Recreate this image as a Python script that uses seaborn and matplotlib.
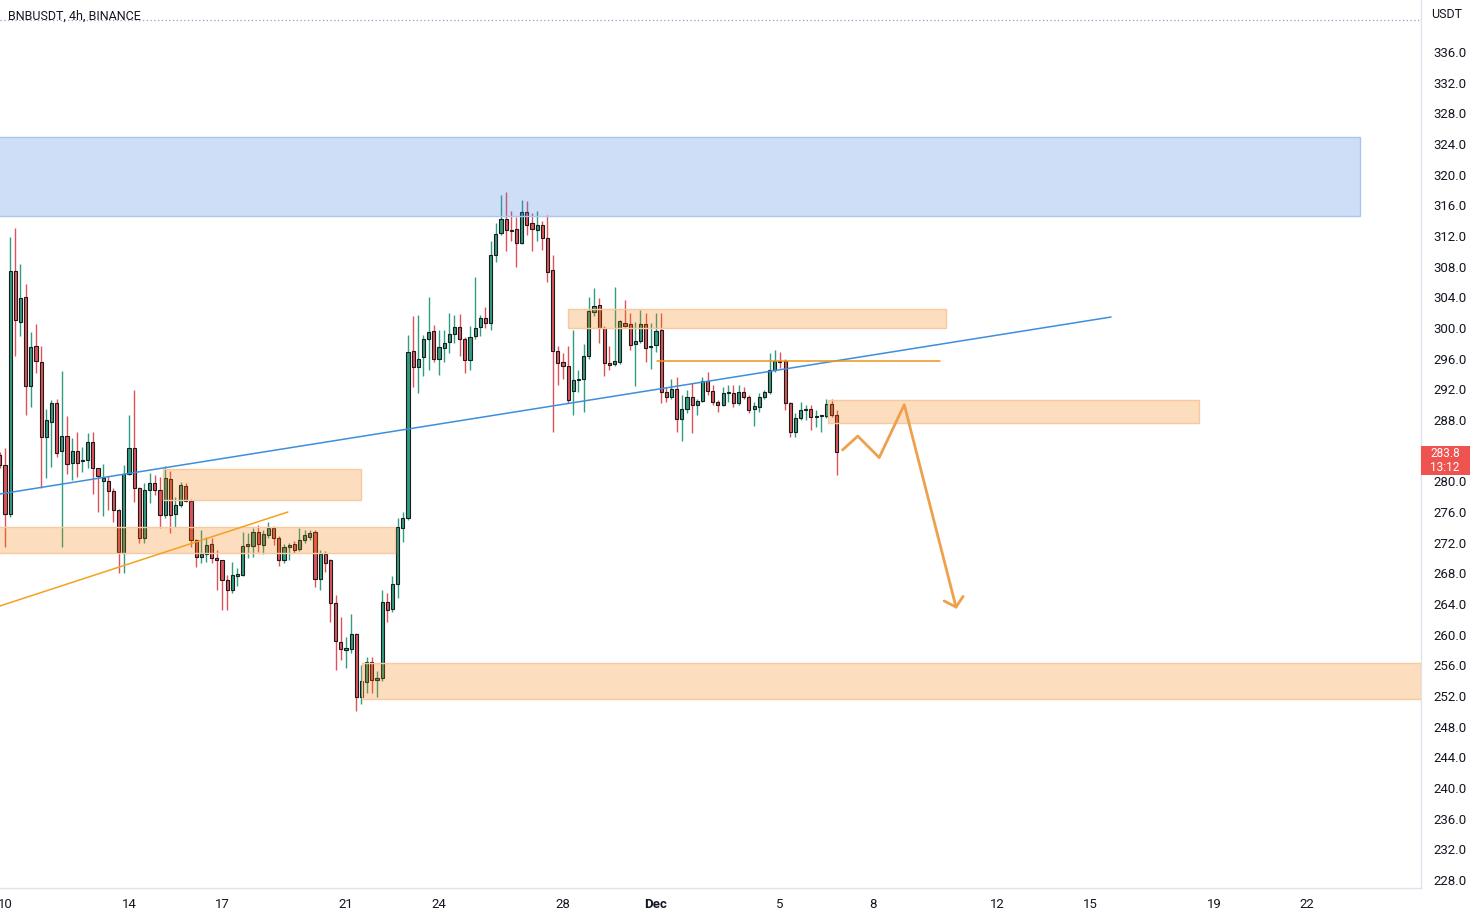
import matplotlib
matplotlib.use("Agg")
import matplotlib.pyplot as plt
import matplotlib.dates as mdates
from matplotlib.patches import Rectangle
import numpy as np
import pandas as pd
import seaborn as sns

# 4h candles, BNB/USDT
start_time = "2022-11-09 20:00"
opens = [283.4, 282.1, 275.7, 307.4, 300.8, 304.0, 292.4, 297.6, 295.5, 285.8, 287.8, 290.2, 283.9, 285.9, 282.4,
         284.0, 282.6, 282.8, 285.1, 281.7, 280.1, 280.1, 278.7, 276.3, 270.7, 281.0, 284.3, 279.1, 272.6, 278.9,
         279.8, 278.9, 275.6, 280.3, 275.8, 276.9, 279.4, 277.5, 272.3, 270.1, 270.5, 271.8, 270.0, 269.7, 267.1,
         265.8, 267.6, 267.8, 271.6, 271.6, 273.4, 271.7, 273.0, 273.9, 272.6, 269.7, 271.4, 271.8, 271.2, 272.4,
         272.8, 273.4, 267.2, 270.5, 269.7, 264.1, 259.1, 258.0, 258.1, 260.1, 251.9, 253.8, 256.4, 254.1, 254.3,
         264.3, 263.3, 266.6, 273.9, 275.2, 297.0, 294.9, 296.2, 298.6, 299.6, 296.0, 297.4, 298.2, 299.2, 300.1,
         298.6, 295.8, 298.9, 300.1, 301.3, 300.6, 309.5, 312.4, 314.2, 312.8, 312.9, 311.1, 315.1, 313.7, 312.8,
         313.4, 311.7, 307.6, 297.0, 295.5, 295.0, 291.8, 293.2, 293.3, 296.3, 302.1, 303.0, 300.0, 295.4, 295.3,
         295.5, 300.7, 300.5, 297.9, 298.3, 300.5, 297.5, 297.8, 299.7, 291.6, 291.0, 292.1, 288.1, 289.5, 291.0,
         290.0, 290.5, 293.1, 291.8, 290.4, 290.0, 291.5, 291.5, 290.2, 291.7, 291.0, 289.4, 289.7, 291.0, 291.6,
         294.5, 295.7, 295.7, 290.2, 286.5, 288.2, 289.3, 289.4, 288.4, 288.5, 288.5, 290.1, 288.6]
highs = [283.8, 284.3, 311.9, 313.0, 308.4, 305.8, 299.5, 300.5, 297.6, 289.4, 290.6, 290.8, 294.4, 288.5, 285.6,
         286.5, 284.5, 286.3, 286.5, 281.8, 282.3, 280.7, 279.1, 276.4, 282.1, 288.7, 291.9, 279.3, 279.8, 281.1,
         280.8, 280.6, 282.0, 281.3, 278.0, 279.9, 279.8, 277.7, 272.5, 273.7, 272.8, 272.6, 271.0, 269.8, 267.8,
         269.5, 268.7, 273.4, 273.2, 273.9, 274.3, 273.6, 274.7, 274.2, 272.9, 271.8, 272.0, 272.2, 273.9, 273.6,
         273.6, 273.6, 271.0, 270.9, 269.9, 265.2, 262.3, 259.7, 262.7, 260.2, 256.0, 257.1, 257.1, 255.2, 265.8,
         265.4, 267.6, 275.2, 276.0, 299.1, 301.5, 301.7, 299.1, 304.1, 300.4, 299.7, 299.7, 302.0, 301.7, 301.8,
         298.8, 300.3, 306.6, 301.7, 302.8, 311.3, 313.7, 317.4, 317.8, 315.2, 314.5, 316.7, 316.5, 315.0, 315.2,
         313.9, 314.7, 309.5, 297.7, 296.7, 297.7, 299.7, 294.5, 297.9, 304.1, 305.2, 303.9, 300.3, 297.6, 305.4,
         301.1, 303.7, 301.9, 300.8, 302.3, 301.9, 300.6, 301.9, 301.9, 292.3, 293.4, 293.6, 291.3, 291.9, 292.8,
         290.8, 293.6, 294.3, 292.6, 290.6, 292.3, 292.6, 292.6, 292.6, 292.3, 291.2, 290.4, 291.5, 291.9, 296.7,
         297.1, 296.9, 295.9, 290.4, 288.9, 290.4, 290.0, 290.0, 289.3, 288.7, 290.8, 290.8, 289.3]
lows = [281.8, 271.4, 275.4, 296.3, 298.9, 288.7, 289.7, 294.1, 279.1, 280.4, 281.9, 283.2, 271.5, 281.0, 280.2,
        280.6, 281.2, 281.7, 278.4, 276.0, 275.5, 276.3, 274.7, 268.0, 268.0, 280.8, 277.3, 271.9, 271.9, 277.2,
        278.2, 273.9, 275.2, 273.2, 274.1, 276.6, 277.3, 271.5, 268.8, 269.4, 269.5, 269.3, 265.8, 263.2, 263.2,
        265.4, 266.4, 267.6, 270.0, 270.1, 270.8, 270.5, 272.6, 271.7, 268.9, 269.4, 269.7, 270.6, 270.9, 272.0,
        272.4, 266.2, 265.8, 268.2, 261.7, 255.4, 256.7, 255.6, 257.6, 250.0, 250.9, 252.4, 252.4, 251.9, 254.0,
        261.7, 263.0, 264.8, 272.1, 275.0, 292.3, 291.5, 293.7, 294.5, 295.6, 293.9, 295.6, 296.7, 298.0, 296.3,
        294.1, 294.5, 298.5, 298.9, 300.0, 299.7, 308.6, 312.1, 310.1, 311.3, 307.9, 310.9, 312.1, 310.1, 311.3,
        310.2, 306.0, 286.5, 292.6, 293.4, 290.2, 288.7, 291.7, 289.0, 296.0, 301.5, 298.1, 293.7, 294.5, 295.0,
        295.3, 300.1, 297.1, 292.4, 298.0, 295.6, 294.7, 296.9, 290.2, 290.4, 290.8, 286.5, 285.2, 288.9, 286.3,
        288.7, 290.3, 291.3, 290.0, 289.0, 289.8, 290.4, 289.7, 290.0, 290.8, 288.9, 287.2, 289.1, 290.8, 291.4,
        294.3, 294.8, 289.3, 285.8, 285.8, 288.0, 288.0, 286.7, 287.1, 286.5, 288.3, 288.4, 280.8]
closes = [282.1, 275.7, 307.4, 301.0, 303.9, 292.4, 297.5, 295.7, 285.8, 288.0, 290.2, 283.7, 285.9, 282.3, 283.9,
          282.4, 282.7, 285.1, 281.7, 280.7, 280.5, 278.8, 276.3, 270.8, 280.9, 284.3, 279.1, 272.6, 278.9, 279.8,
          278.9, 275.6, 280.4, 275.6, 276.9, 279.5, 277.5, 272.3, 270.1, 270.5, 271.7, 270.0, 269.7, 267.1, 265.8,
          267.8, 267.9, 271.6, 271.8, 273.4, 271.8, 273.1, 273.9, 272.6, 269.7, 271.4, 271.7, 271.0, 272.4, 273.0,
          273.3, 267.2, 270.5, 269.4, 264.1, 259.2, 258.1, 258.2, 260.1, 251.9, 253.9, 256.5, 254.1, 254.4, 264.3,
          263.2, 266.6, 274.1, 275.2, 296.9, 294.9, 296.0, 298.6, 299.5, 296.0, 297.5, 298.1, 299.2, 300.1, 298.6,
          295.8, 298.8, 300.0, 301.3, 300.6, 309.5, 312.3, 314.2, 312.8, 312.6, 311.1, 315.1, 313.4, 312.9, 313.4,
          311.7, 307.3, 297.0, 295.4, 295.0, 290.6, 293.2, 293.4, 296.3, 302.2, 302.9, 300.0, 295.4, 295.2, 295.7,
          300.9, 300.3, 297.8, 298.3, 300.5, 297.4, 297.7, 299.6, 291.7, 291.0, 292.1, 288.1, 289.5, 291.0, 289.9,
          290.5, 293.1, 291.8, 290.3, 290.0, 291.5, 291.6, 290.2, 291.6, 291.0, 289.3, 289.8, 291.0, 291.6, 294.5,
          295.7, 295.5, 290.2, 286.5, 288.2, 289.3, 289.4, 288.4, 288.5, 288.5, 290.1, 288.6, 283.8]
assert len(opens) == len(highs) == len(lows) == len(closes)

# drawings on the chart
blue_zone = ("2022-11-08 00:00", "2022-12-23 17:00", 314.6, 324.9)
orange_zones = [
    ("2022-11-28 04:00", "2022-12-10 08:30", 300.0, 302.5),
    ("2022-12-06 13:00", "2022-12-18 12:30", 287.6, 290.6),
    ("2022-11-15 02:30", "2022-11-21 11:30", 277.6, 281.6),
    ("2022-11-08 00:00", "2022-11-22 14:00", 270.65, 274.05),
    ("2022-11-21 12:30", "2022-12-28 00:00", 251.6, 256.3),
]
blue_trend_t = ["2022-11-09 20:00", "2022-12-15 16:20"]
blue_trend_p = [278.35, 301.43]
orange_trend_t = ["2022-11-09 20:00", "2022-11-19 03:00"]
orange_trend_p = [263.74, 276.0]
level_t = ["2022-12-01 00:45", "2022-12-10 04:00"]
level_p = [295.7, 295.7]
path_t = ["2022-12-07 00:30", "2022-12-07 12:15", "2022-12-08 04:50", "2022-12-09 00:15", "2022-12-10 16:20"]
path_p = [284.1, 285.9, 283.1, 290.0, 263.6]
head_t = ["2022-12-10 07:10", "2022-12-10 16:20", "2022-12-10 21:50"]
head_p = [264.4, 263.6, 265.0]
top_line_p = 340.2

# 284.0 sits under the last-price tag, so it is not listed
y_ticks = [v for v in range(228, 340, 4) if v != 284]
x_ticks = ["2022-11-10", "2022-11-14", "2022-11-17", "2022-11-21", "2022-11-24", "2022-11-28", "2022-12-01",
           "2022-12-05", "2022-12-08", "2022-12-12", "2022-12-15", "2022-12-19", "2022-12-22"]
x_labels = ["10", "14", "17", "21", "24", "28", "Dec", "5", "8", "12", "15", "19", "22"]

sns.set_style("white")
plt.rcParams["font.family"] = ["Roboto", "DejaVu Sans"]

times = pd.date_range(start_time, periods=len(opens), freq="4h")
df = pd.DataFrame({"time": times, "open": opens, "high": highs, "low": lows, "close": closes})
df["x"] = mdates.date2num(df["time"])
df["up"] = df["close"] >= df["open"]

green = "#2f9e80"
red = "#e0525a"

fig = plt.figure(figsize=(14.81, 9.16), dpi=100)
ax = fig.add_axes([0, 28 / 916, 1421 / 1481, 888 / 916])

# wicks
for up, col in [(True, green), (False, red)]:
    sub = df[df["up"] == up]
    ax.vlines(sub["x"], sub["low"], sub["high"], color=col, linewidth=1, zorder=2)
# bodies
body_h = (df["close"] - df["open"]).abs().clip(lower=0.12)
body_b = df[["open", "close"]].min(axis=1)
ax.bar(df["x"], body_h, bottom=body_b, width=0.1,
       color=np.where(df["up"], green, red), edgecolor="#1c1c1c", linewidth=0.8, zorder=3)


def tnum(s):
    return mdates.date2num(pd.Timestamp(s))


# zones
t0, t1, p0, p1 = blue_zone
ax.add_patch(Rectangle((tnum(t0), p0), tnum(t1) - tnum(t0), p1 - p0,
                       facecolor="#3d7de0", alpha=0.25, edgecolor="none", zorder=4))
ax.add_patch(Rectangle((tnum(t0), p0), tnum(t1) - tnum(t0), p1 - p0,
                       facecolor="none", edgecolor="#aac6ef", linewidth=1, zorder=4))
for t0, t1, p0, p1 in orange_zones:
    ax.add_patch(Rectangle((tnum(t0), p0), tnum(t1) - tnum(t0), p1 - p0,
                           facecolor="#f57c00", alpha=0.25, edgecolor="none", zorder=4))
    ax.add_patch(Rectangle((tnum(t0), p0), tnum(t1) - tnum(t0), p1 - p0,
                           facecolor="none", edgecolor="#f7c9a0", linewidth=1, zorder=4))

# lines
lines = pd.DataFrame({
    "t": pd.to_datetime(blue_trend_t + orange_trend_t + level_t),
    "p": blue_trend_p + orange_trend_p + level_p,
    "name": ["blue"] * 2 + ["orange"] * 2 + ["level"] * 2,
})
sns.lineplot(data=lines, x="t", y="p", hue="name", units="name", estimator=None,
             palette={"blue": "#3d8fdc", "orange": "#f5a020", "level": "#f0921c"},
             linewidth=1.1, legend=False, ax=ax, zorder=5)

path = pd.DataFrame({"t": pd.to_datetime(path_t), "p": path_p})
sns.lineplot(data=path, x="t", y="p", color="#eea04c", linewidth=2.0, sort=False, ax=ax, zorder=6)
head = pd.DataFrame({"t": pd.to_datetime(head_t), "p": head_p})
sns.lineplot(data=head, x="t", y="p", color="#eea04c", linewidth=2.0, sort=False, ax=ax, zorder=6)

ax.axhline(top_line_p, color="#b58ac8", linestyle=(0, (1, 2)), linewidth=0.9, zorder=1)

# axes
ax.set_xlim(tnum("2022-11-09 20:08"), tnum("2022-12-25 16:20"))
ax.set_ylim(226.96, 342.78)
ax.yaxis.tick_right()
ax.set_yticks(y_ticks)
ax.set_yticklabels([f"{v:.1f}" for v in y_ticks])
ax.set_xticks([tnum(t) for t in x_ticks])
ax.set_xticklabels(x_labels)
for lab in ax.get_xticklabels():
    if lab.get_text() == "Dec":
        lab.set_fontweight("bold")
ax.tick_params(axis="y", length=0, pad=9, labelsize=9.5, labelcolor="#131722")
ax.tick_params(axis="x", length=0, pad=7, labelsize=9.5, labelcolor="#131722")
ax.set_xlabel("")
ax.set_ylabel("")
for s in ["top", "left"]:
    ax.spines[s].set_visible(False)
for s in ["right", "bottom"]:
    ax.spines[s].set_color("#e0e3eb")
    ax.spines[s].set_linewidth(1)

fig.text(8 / 1481, 1 - 16 / 916, "BNBUSDT, 4h, BINANCE", fontsize=9, color="#131722", va="center", ha="left")
fig.text(1431 / 1481, 1 - 14 / 916, "USDT", fontsize=9, color="#131722", va="center", ha="left")

# last price tag
fig.patches.append(Rectangle((1421 / 1481, 1 - 475 / 916), 49 / 1481, 29 / 916,
                             transform=fig.transFigure, facecolor="#ef5350", edgecolor="none"))
fig.text(1445 / 1481, 1 - 460.5 / 916, f"{closes[-1]:.1f}\n13:12", fontsize=8.5, color="white",
         va="center", ha="center", linespacing=1.15)

fig.savefig("out.png", dpi=100)
